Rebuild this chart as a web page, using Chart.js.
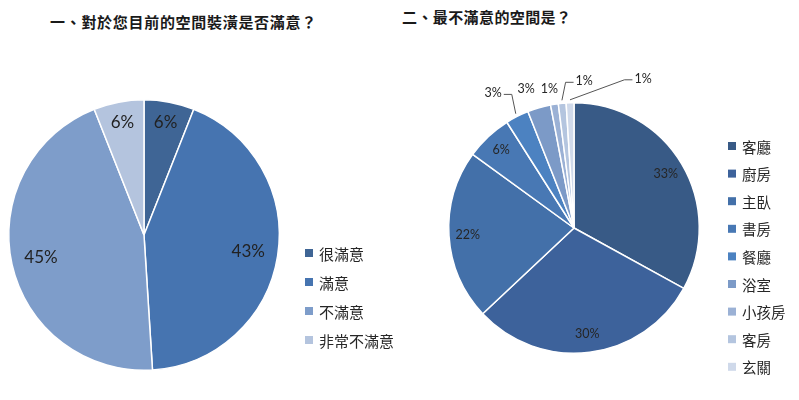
<!DOCTYPE html>
<html>
<head>
<meta charset="utf-8">
<script src="https://cdn.jsdelivr.net/npm/chart.js@4.4.1/dist/chart.umd.min.js"></script>
<style>
  html, body { margin: 0; padding: 0; background: #fff; width: 799px; height: 400px; overflow: hidden; }
  #wrap { position: relative; width: 799px; height: 400px; }
  canvas { position: absolute; top: 0; }
  .title {
    position: absolute; white-space: nowrap; line-height: 1;
    font-family: "Noto Sans CJK TC", sans-serif; font-weight: bold;
    font-size: 15px; color: #1a1a1a;
  }
</style>
</head>
<body>
<div id="wrap">
  <div class="title" id="t1" style="left:50px; top:14px; letter-spacing:0.7px"></div>
  <div class="title" id="t2" style="left:402px; top:9px; letter-spacing:0.4px"></div>
  <canvas id="leftPie" width="400" height="400" style="left:0"></canvas>
  <canvas id="rightPie" width="399" height="400" style="left:400px"></canvas>
</div>
<script>
// data
const leftTitle = "一、對於您目前的空間裝潢是否滿意？";
const leftLabels = ["很滿意", "滿意", "不滿意", "非常不滿意"];
const leftValues = [6, 43, 45, 6];

const rightTitle = "二、最不滿意的空間是？";
const rightLabels = ["客廳", "廚房", "主臥", "書房", "餐廳", "浴室", "小孩房", "客房", "玄關"];
const rightValues = [33, 30, 22, 6, 3, 3, 1, 1, 1];

// colours
const leftColors = ["#3f6595", "#4674b0", "#7e9dca", "#b4c4de"];
const rightColors = ["#385a86", "#3d629b", "#4370a9", "#4878b4", "#4c82c1",
                     "#7c9ac7", "#9bb1d5", "#b4c5df", "#cfd9ea"];

document.getElementById("t1").textContent = leftTitle;
document.getElementById("t2").textContent = rightTitle;

// draws percent labels and a hand-made legend
const pieDecor = {
  id: "pieDecor",
  afterDraw(chart, args, opts) {
    const ctx = chart.ctx;
    const ds = chart.data.datasets[0];
    const meta = chart.getDatasetMeta(0);
    ctx.save();

    // percent labels
    ctx.font = opts.labelFont;
    ctx.fillStyle = opts.labelColor;
    ctx.strokeStyle = "#555";
    ctx.lineWidth = 1;
    ctx.textAlign = "center";
    ctx.textBaseline = "middle";
    meta.data.forEach((arc, i) => {
      const p = arc.getProps(["x", "y", "startAngle", "endAngle", "outerRadius"], true);
      const mid = (p.startAngle + p.endAngle) / 2;
      const text = ds.data[i] + "%";
      const out = opts.outside ? opts.outside[i] : null;
      if (out) {
        const ax = p.x + Math.cos(mid) * p.outerRadius;
        const ay = p.y + Math.sin(mid) * p.outerRadius;
        const tx = ax + out.dx, ty = ay + out.dy;
        ctx.fillText(text, tx, ty);
        if (out.leader) {
          const w = ctx.measureText(text).width;
          const dir = out.dx < 0 ? 1 : -1;
          const edge = tx + dir * (w / 2 + 2);
          const elbow = edge + dir * 8;
          ctx.beginPath();
          ctx.moveTo(edge, ty + 1);
          ctx.lineTo(elbow, ty + 1);
          ctx.lineTo(ax + Math.cos(mid) * 3, ay + Math.sin(mid) * 3);
          ctx.stroke();
        }
      } else {
        const f = ds.data[i] < 10 ? opts.smallFactor : opts.factor;
        ctx.fillText(text, p.x + Math.cos(mid) * p.outerRadius * f,
                           p.y + Math.sin(mid) * p.outerRadius * f);
      }
    });

    // legend
    const lg = opts.legend;
    ctx.font = lg.font;
    ctx.textAlign = "left";
    chart.data.labels.forEach((label, i) => {
      const y = lg.y + i * lg.step;
      ctx.fillStyle = ds.backgroundColor[i];
      ctx.fillRect(lg.x, y - lg.box / 2, lg.box, lg.box);
      ctx.fillStyle = "#262626";
      ctx.fillText(label, lg.x + lg.box + 6, y + 1);
    });
    ctx.restore();
  }
};

function makePie(id, labels, values, colors, padding, decor) {
  return new Chart(document.getElementById(id), {
    type: "pie",
    data: {
      labels: labels,
      datasets: [{
        data: values,
        backgroundColor: colors,
        borderColor: "#fff",
        borderWidth: 1.5
      }]
    },
    options: {
      responsive: false,
      animation: false,
      events: [],
      layout: { padding: padding },
      plugins: {
        legend: { display: false },
        tooltip: { enabled: false },
        title: { display: false },
        pieDecor: decor
      }
    },
    plugins: [pieDecor]
  });
}

makePie("leftPie", leftLabels, leftValues, leftColors,
  { left: 8, right: 120, top: 99, bottom: 29 },
  {
    labelFont: "17px Lato, sans-serif",
    labelColor: "#222",
    factor: 0.78,
    smallFactor: 0.85,
    legend: { x: 305, y: 253, step: 29, box: 8, font: "15px 'Noto Sans CJK TC', sans-serif" }
  });

makePie("rightPie", rightLabels, rightValues, rightColors,
  { left: 48, right: 99, top: 102, bottom: 46 },
  {
    labelFont: "12.5px Lato, sans-serif",
    labelColor: "#262626",
    factor: 0.85,
    smallFactor: 0.85,
    outside: {
      4: { dx: -24, dy: -23, leader: true },
      5: { dx: -13, dy: -19 },
      6: { dx: -5, dy: -15 },
      7: { dx: 22, dy: -22, leader: true },
      8: { dx: 73, dy: -24, leader: true }
    },
    legend: { x: 328, y: 146, step: 27.6, box: 8, font: "14.5px 'Noto Sans CJK TC', sans-serif" }
  });
</script>
</body>
</html>
